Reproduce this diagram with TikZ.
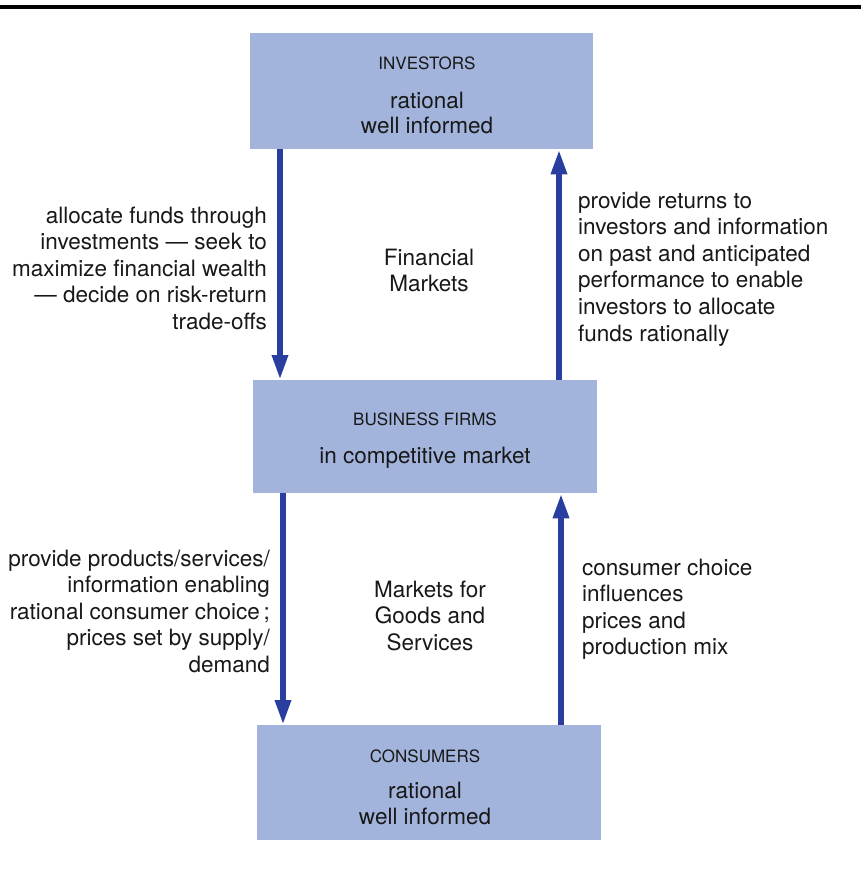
\documentclass[tikz,border=0pt]{standalone}
\usepackage{fontspec}
\setmainfont{TeX Gyre Heros}
\usetikzlibrary{arrows.meta}
\definecolor{boxblue}{RGB}{162,180,220}
\definecolor{flowblue}{RGB}{42,62,160}
\definecolor{ink}{RGB}{24,24,24}
\begin{document}
\begin{tikzpicture}[x=1pt,y=-1pt,
  panel/.style={rectangle, fill=boxblue, draw=none, inner sep=0pt, anchor=north west},
  tag/.style={font=\fontsize{17}{20}\selectfont, text=ink, inner sep=0pt, anchor=base},
  big/.style={font=\fontsize{22.5}{26.6}\selectfont, text=ink, inner sep=0pt, anchor=base},
  para/.style={font=\fontsize{22.5}{26.6}\selectfont, text=ink, inner sep=0pt},
  flow/.style={draw=flowblue, line width=6pt, -{Triangle[width=15pt,length=25pt]}}]

% page extent and the heavy rule along the top
\useasboundingbox (0,0) rectangle (861,883);
\fill[black] (0,5) rectangle (861,9);

% the three actors
\node[panel, minimum width=343pt, minimum height=116pt] (inv) at (250,33) {};
\node[panel, minimum width=344pt, minimum height=113pt] (biz) at (253,380) {};
\node[panel, minimum width=344pt, minimum height=115pt] (con) at (257,725) {};

\node[tag] (invT) at (427,70) {INVESTORS};
\node[big] (invR) at (427,108) {rational};
\node[big] (invW) at (427,133) {well informed};

\node[tag] (bizT) at (425,425) {BUSINESS FIRMS};
\node[big] (bizR) at (425,463) {in competitive market};

\node[tag] (conT) at (425,762) {CONSUMERS};
\node[big] (conR) at (425,798) {rational};
\node[big] (conW) at (425,824) {well informed};

% columns of the four flows
\coordinate (c1) at (280,0);
\coordinate (c2) at (559,0);
\coordinate (c3) at (283,0);
\coordinate (c4) at (561,0);

\draw[flow] (inv.south -| c1) -- (biz.north -| c1);
\draw[flow] (biz.north -| c2) -- (inv.south -| c2);
\draw[flow] (biz.south -| c3) -- (con.north -| c3);
\draw[flow] (con.north -| c4) -- (biz.south -| c4);

% market labels between the boxes
\node[para, anchor=north, align=center] (fin) at (429,246.3)
  {\strut Financial\\Markets};
\node[para, anchor=north, align=center] (goods) at (430,578.3)
  {\strut Markets for\\Goods and\\Services};

% flow descriptions
\node[para, anchor=north east, align=right] (alloc) at (267,204.3)
  {\strut allocate funds through\\investments — seek to\\maximize financial wealth\\— decide on risk-return\\trade-offs};
\node[para, anchor=north west, align=left] (returns) at (578,189.3)
  {\strut provide returns to\\investors and information\\on past and anticipated\\performance to enable\\investors to allocate\\funds rationally};
\node[para, anchor=north east, align=right] (products) at (270,547.3)
  {\strut provide products/services/\\information enabling\\rational consumer choice\,;\\prices set by supply/\\demand};
\node[para, anchor=north west, align=left] (choice) at (582,556.3)
  {\strut consumer choice\\influences\\prices and\\production mix};
\end{tikzpicture}
\end{document}
